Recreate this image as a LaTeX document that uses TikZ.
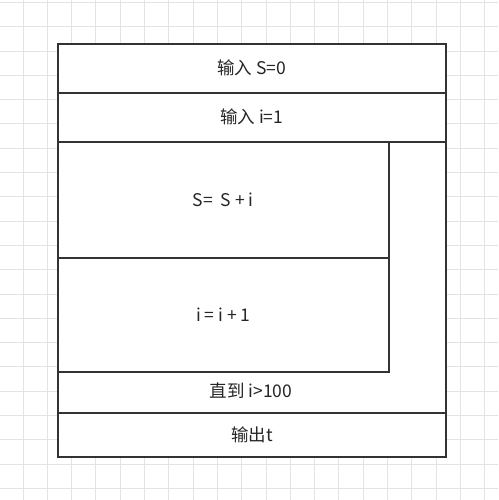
\documentclass[tikz,border=0pt]{standalone}
\usepackage{fontspec}
\setmainfont{Noto Sans CJK SC}
\begin{document}
\begin{tikzpicture}[x=1pt,y=-1pt,
  cell/.style={draw=black!80,line width=1.6pt,fill=white,rectangle,inner sep=0pt,anchor=north west},
  lbl/.style={inner sep=0pt,font=\fontsize{17.5}{20}\selectfont,text=black!85},
  gridline/.style={draw=black!11,line width=0.9pt}]
\useasboundingbox (0,0) rectangle (498,500);
\fill[white] (0,0) rectangle (498,500);
\foreach \k in {0,...,20} {
  \draw[gridline] ({23+24.3*\k},0) -- ({23+24.3*\k},500);
  \draw[gridline] (0,{2.4+24.3*\k}) -- (498,{2.4+24.3*\k});
}
\node[cell,minimum width=388pt,minimum height=49pt] (in1) at (57,43) {};
\node[lbl] at (in1.center) {输入 S=0};
\node[cell,minimum width=388pt,minimum height=49pt] (in2) at (57,92) {};
\node[lbl] at (in2.center) {输入 i=1};
\node[cell,minimum width=388pt,minimum height=271pt] (loop) at (57,141) {};
\node[cell,minimum width=331pt,minimum height=116pt] (b1) at (57,141) {};
\node[lbl] at (b1.center) {S=\ \ S\ +\ i};
\node[cell,minimum width=331pt,minimum height=114pt] (b2) at (57,257) {};
\node[lbl] at (b2.center) {i\ =\ i\ +\ 1};
\node[lbl] (until) at (251,391) {直到 i>100};
\node[cell,minimum width=388pt,minimum height=44pt] (out) at (57,412) {};
\node[lbl] at (out.center) {输出t};
\end{tikzpicture}
\end{document}
